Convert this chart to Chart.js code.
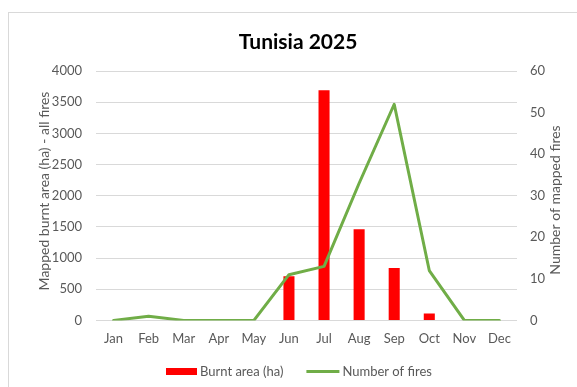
<!DOCTYPE html>
<html>
<head>
<meta charset="utf-8">
<script src="https://cdn.jsdelivr.net/npm/chart.js@4/dist/chart.umd.min.js"></script>
<style>
  html, body { margin: 0; padding: 0; background: #fff; }
  #wrap { position: relative; width: 577px; height: 387px; overflow: hidden; }
  #frame { position: absolute; left: 8px; top: 12px; width: 600px; height: 400px; border: 1px solid #d9d9d9; box-sizing: border-box; }
  canvas { position: absolute; left: 0; top: 0; }
</style>
</head>
<body>
<div id="wrap">
  <div id="frame"></div>
  <canvas id="c" width="577" height="387"></canvas>
</div>
<script>
// Monthly fire statistics, Tunisia 2025
const months = ['Jan', 'Feb', 'Mar', 'Apr', 'May', 'Jun', 'Jul', 'Aug', 'Sep', 'Oct', 'Nov', 'Dec'];
const burntArea = [0, 0, 0, 0, 0, 710, 3690, 1460, 840, 110, 0, 0];
const fireCount = [0, 1, 0, 0, 0, 11, 13, 33, 52, 12, 0, 0];
const areaTicks = [0, 500, 1000, 1500, 2000, 2500, 3000, 3500, 4000];
const countTicks = [0, 10, 20, 30, 40, 50, 60];
const chartTitle = 'Tunisia 2025';
const areaTitle = 'Mapped burnt area (ha) - all fires';
const countTitle = 'Number of mapped fires';

const RED = '#ff0000';
const GREEN = '#70ad47';
const GREY = '#595959';
const FONT = 'Lato, "Open Sans", sans-serif';

// Heading, axis titles (both read bottom-to-top) and the legend row
const decorations = {
  id: 'decorations',
  afterDraw(chart) {
    const ctx = chart.ctx;
    ctx.save();
    ctx.textAlign = 'center';
    ctx.textBaseline = 'middle';

    ctx.fillStyle = '#000';
    ctx.font = 'bold 21px ' + FONT;
    ctx.fillText(chartTitle, 298, 42);

    ctx.fillStyle = GREY;
    ctx.font = '14px ' + FONT;
    [[44, 191, areaTitle], [555, 200, countTitle]].forEach(([x, y, t]) => {
      ctx.save();
      ctx.translate(x, y);
      ctx.rotate(-Math.PI / 2);
      ctx.fillText(t, 0, 0);
      ctx.restore();
    });

    // legend
    ctx.font = '13px ' + FONT;
    ctx.textAlign = 'left';
    const items = chart.data.datasets.map((ds, i) => ({
      text: ds.label,
      w: i === 0 ? 31 : 33,
      h: i === 0 ? 7 : 3,
      color: i === 0 ? RED : GREEN
    }));
    const gapText = 3, gapItem = 23;
    let x = 166;
    const cy = 371.5;
    items.forEach(it => {
      ctx.fillStyle = it.color;
      ctx.fillRect(x, cy - it.h / 2, it.w, it.h);
      x += it.w + gapText;
      ctx.fillStyle = GREY;
      ctx.fillText(it.text, x, cy);
      x += ctx.measureText(it.text).width + gapItem;
    });
    ctx.restore();
  }
};

new Chart(document.getElementById('c'), {
  type: 'bar',
  data: {
    labels: months,
    datasets: [
      {
        label: 'Burnt area (ha)',
        data: burntArea,
        backgroundColor: RED,
        yAxisID: 'y',
        barPercentage: 0.315,
        categoryPercentage: 1.0,
        order: 1
      },
      {
        type: 'line',
        label: 'Number of fires',
        data: fireCount,
        borderColor: GREEN,
        backgroundColor: GREEN,
        borderWidth: 3,
        borderJoinStyle: 'round',
        borderCapStyle: 'round',
        pointRadius: 0,
        tension: 0,
        yAxisID: 'y1',
        order: 0
      }
    ]
  },
  options: {
    responsive: false,
    animation: false,
    layout: { padding: { left: 0, right: 0, top: 71, bottom: 29 } },
    plugins: {
      title: { display: false },
      legend: { display: false },
      tooltip: { enabled: false }
    },
    scales: {
      x: {
        grid: { display: false, drawTicks: false },
        border: { display: false },
        ticks: { color: GREY, font: { family: FONT, size: 13 }, padding: 11, maxRotation: 0 }
      },
      y: {
        position: 'left',
        min: 0,
        max: 4000,
        afterBuildTicks: (ax) => { ax.ticks = areaTicks.map(v => ({ value: v })); },
        afterFit: (ax) => { ax.width = 96; },
        grid: { color: '#d9d9d9', lineWidth: 1, drawTicks: false },
        border: { display: false },
        ticks: { color: GREY, font: { family: FONT, size: 13 }, padding: 14, callback: (v) => String(v) }
      },
      y1: {
        position: 'right',
        min: 0,
        max: 60,
        afterBuildTicks: (ax) => { ax.ticks = countTicks.map(v => ({ value: v })); },
        afterFit: (ax) => { ax.width = 60; },
        grid: { display: false, drawTicks: false },
        border: { display: false },
        ticks: { color: GREY, font: { family: FONT, size: 13 }, padding: 13, callback: (v) => String(v) }
      }
    }
  },
  plugins: [decorations]
});
</script>
</body>
</html>
